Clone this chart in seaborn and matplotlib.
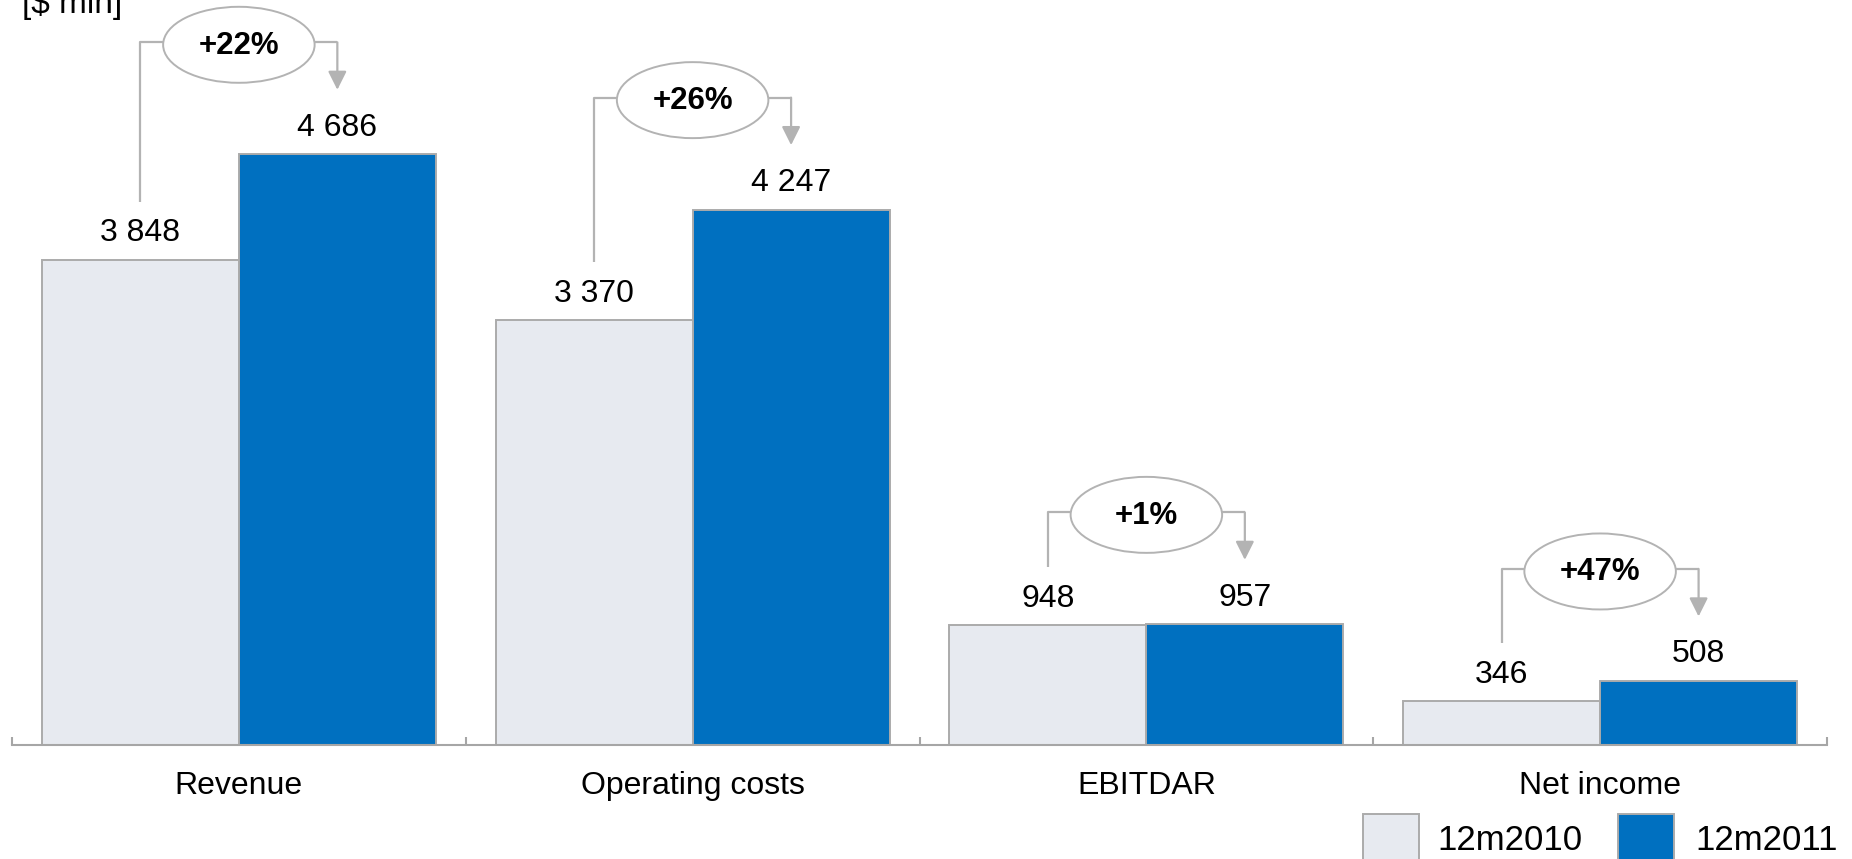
import matplotlib
matplotlib.use("Agg")
import matplotlib.pyplot as plt
from matplotlib.patches import Ellipse, Rectangle
from matplotlib.ticker import FixedLocator
import pandas as pd
import seaborn as sns

# ---- data -------------------------------------------------------------
categories = ["Revenue", "Operating costs", "EBITDAR", "Net income"]
periods = ["12m2010", "12m2011"]
values_2010 = [3848, 3370, 948, 346]
values_2011 = [4686, 4247, 957, 508]
growth_labels = ["+22%", "+26%", "+1%", "+47%"]
unit_label = "[$ mln]"

# ---- styling ----------------------------------------------------------
W, H, DPI = 1852, 859, 100
LIGHT = "#E7EAF0"
BLUE = "#0070C0"
EDGE = "#ABABAB"
LINE = "#B3B3B3"

sns.set_theme(style="white")
plt.rcParams["font.family"] = ["Liberation Sans", "DejaVu Sans"]

df = pd.DataFrame({
    "category": categories * 2,
    "period": [periods[0]] * len(categories) + [periods[1]] * len(categories),
    "value": values_2010 + values_2011,
})

fig = plt.figure(figsize=(W / DPI, H / DPI), dpi=DPI)
base_px = 745          # baseline position (pixels from top)
left_px, right_px = 12, 1827
ax = fig.add_axes([left_px / W, (H - base_px) / H, (right_px - left_px) / W, base_px / H])

sns.barplot(data=df, x="category", y="value", hue="period",
            order=categories, hue_order=periods,
            palette=[LIGHT, BLUE], width=0.868, saturation=1,
            edgecolor=EDGE, linewidth=1.4, errorbar=None,
            legend=False, ax=ax)

ymax = 5910
ax.set_ylim(0, ymax)
ax.set_xlim(-0.5, len(categories) - 0.5)

# conversion helpers (pixels -> data units)
uy = ymax / base_px
ux = len(categories) / (right_px - left_px)

# axes cosmetics
for s in ["left", "top", "right"]:
    ax.spines[s].set_visible(False)
ax.spines["bottom"].set_color("#A6A6A6")
ax.spines["bottom"].set_linewidth(1.5)
ax.set_xlabel("")
ax.set_ylabel("")
ax.set_yticks([])
ax.set_xticks(range(len(categories)))
ax.set_xticklabels(categories)
ax.tick_params(axis="x", which="major", length=0, pad=19, labelsize=23, labelcolor="black")
ax.xaxis.set_minor_locator(FixedLocator([i - 0.5 for i in range(len(categories) + 1)]))
ax.tick_params(axis="x", which="minor", bottom=True, direction="in",
               length=5.8, width=1.5, color="#A6A6A6")
ax.grid(False)


def fmt(v):
    return f"{v:,}".replace(",", " ")


# value labels above bars
bars10 = ax.containers[0]
bars11 = ax.containers[1]
for container, vals in ((bars10, values_2010), (bars11, values_2011)):
    for bar, v in zip(container, vals):
        xc = bar.get_x() + bar.get_width() / 2
        ax.annotate(fmt(v), xy=(xc, v), xytext=(0, 13.3), textcoords="offset points",
                    ha="center", va="baseline", fontsize=23, color="black")

# growth brackets
ew = 151.5 * ux
eh = 76 * uy
for i, (b10, b11, v10, v11, lab) in enumerate(zip(bars10, bars11, values_2010, values_2011, growth_labels)):
    x0 = b10.get_x() + b10.get_width() / 2
    x1 = b11.get_x() + b11.get_width() / 2
    level = max(v10, v11) + 112 * uy
    ax.plot([x0, x0, i - ew / 2], [v10 + 58 * uy, level, level],
            color=LINE, lw=1.6, solid_capstyle="butt", clip_on=False)
    ax.plot([i + ew / 2, x1], [level, level],
            color=LINE, lw=1.6, solid_capstyle="butt", clip_on=False)
    ax.annotate("", xy=(x1, level - 47.5 * uy), xytext=(x1, level),
                arrowprops=dict(arrowstyle="-|>,head_length=1.12,head_width=0.56",
                                mutation_scale=10, color=LINE, lw=1.6,
                                shrinkA=0, shrinkB=0),
                annotation_clip=False)
    ax.add_patch(Ellipse((i, level - 2.5 * uy), ew, eh, facecolor="white",
                         edgecolor=LINE, lw=1.4, clip_on=False, zorder=4))
    ax.text(i, level - 11.5 * uy, lab, ha="center", va="baseline",
            fontsize=22.5, fontweight="bold", color="black", zorder=5)

# unit label
fig.text(22 / W, (H - 13) / H, unit_label, ha="left", va="baseline", fontsize=24, color="black")

# legend
legend_items = [(periods[0], LIGHT, 1363, 1437), (periods[1], BLUE, 1618, 1695)]
for name, color, sx, tx in legend_items:
    fig.add_artist(Rectangle((sx / W, (H - 874) / H), 56 / W, 60 / H,
                             transform=fig.transFigure, facecolor=color,
                             edgecolor=EDGE, lw=1.4, clip_on=False))
    fig.text(tx / W, (H - 850) / H, name, ha="left", va="baseline", fontsize=25, color="black")

fig.savefig("out.png", dpi=DPI)
